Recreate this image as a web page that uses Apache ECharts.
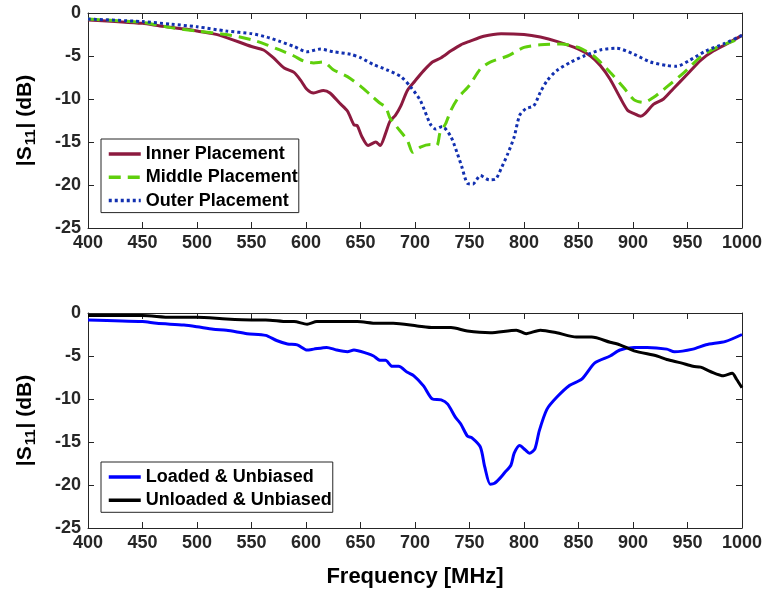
<!DOCTYPE html>
<html>
<head>
<meta charset="utf-8">
<script src="https://cdn.jsdelivr.net/npm/echarts@6/dist/echarts.min.js"></script>
<style>html,body{margin:0;padding:0;background:#fff}#c{width:767px;height:594px}</style>
</head>
<body>
<div id="c"></div>
<script>
var xTicks = [400,450,500,550,600,650,700,750,800,850,900,950,1000];
var yTicks = [0,-5,-10,-15,-20,-25];

var innerData = [[400,-0.8],[450,-1.2],[466,-1.5],[491,-1.9],[500,-2.1],[521,-2.6],[550,-3.9],[561,-4.3],[570,-5.2],[580,-6.4],[589,-6.9],[595,-7.8],[601,-8.9],[607,-9.3],[616,-9.0],[622,-9.3],[631,-10.5],[638,-11.4],[644,-13.0],[647,-13.1],[651,-14.3],[657,-15.4],[664,-15.0],[668,-15.4],[673,-14.0],[677,-12.6],[682,-11.9],[687,-10.8],[693,-9.0],[700,-7.9],[708,-6.7],[716,-5.7],[724,-5.2],[733,-4.4],[742,-3.7],[750,-3.3],[763,-2.7],[779,-2.4],[800,-2.5],[815,-2.8],[830,-3.3],[850,-4.2],[861,-5.0],[870,-6.1],[879,-7.7],[888,-9.8],[895,-11.3],[901,-11.7],[907,-12.0],[911,-11.7],[919,-10.6],[928,-10.0],[937,-8.8],[950,-7.1],[962,-5.5],[974,-4.4],[986,-3.6],[1000,-2.6]];

var middleData = [[400,-0.7],[450,-1.1],[476,-1.7],[500,-2.1],[527,-2.5],[550,-3.1],[564,-3.7],[576,-4.3],[589,-5.0],[598,-5.6],[607,-5.8],[616,-5.7],[625,-6.6],[638,-7.4],[650,-8.5],[659,-9.5],[668,-10.5],[673,-10.9],[677,-12.2],[683,-13.2],[693,-14.8],[698,-16.2],[705,-15.6],[714,-15.3],[720,-15.4],[723,-13.9],[728,-12.9],[733,-11.3],[740,-9.8],[750,-8.4],[760,-6.5],[769,-5.7],[785,-5.0],[800,-4.0],[815,-3.7],[834,-3.6],[850,-4.0],[864,-5.0],[879,-6.9],[891,-8.6],[901,-10.1],[910,-10.4],[919,-9.8],[931,-8.6],[947,-6.9],[962,-5.1],[977,-4.0],[993,-3.2],[1000,-2.8]];

var outerData = [[400,-0.7],[450,-1.0],[476,-1.3],[500,-1.6],[527,-2.1],[550,-2.4],[564,-2.8],[576,-3.3],[589,-3.9],[601,-4.5],[613,-4.2],[625,-4.5],[641,-4.8],[650,-5.2],[662,-6.0],[674,-6.6],[687,-7.4],[696,-8.6],[705,-10.2],[714,-12.9],[719,-13.5],[725,-13.2],[733,-14.4],[739,-16.4],[743,-17.9],[748,-19.8],[753,-19.9],[760,-18.9],[768,-19.4],[774,-19.3],[779,-18.1],[785,-16.4],[791,-14.4],[796,-11.9],[802,-11.1],[809,-10.8],[815,-9.2],[821,-7.9],[830,-6.7],[843,-5.7],[855,-5.0],[870,-4.3],[885,-4.1],[901,-4.8],[916,-5.7],[931,-6.1],[940,-6.2],[952,-5.5],[967,-4.4],[983,-3.6],[1000,-2.6]];

var loadedData = [[400,-0.8],[450,-1.0],[463,-1.2],[488,-1.4],[500,-1.6],[515,-1.9],[527,-2.0],[546,-2.4],[563,-2.6],[573,-3.2],[583,-3.6],[592,-3.7],[601,-4.3],[607,-4.2],[619,-4.0],[628,-4.3],[638,-4.5],[644,-4.3],[656,-4.7],[662,-5.0],[668,-5.5],[673,-5.5],[679,-6.2],[685,-6.2],[693,-6.9],[699,-7.3],[708,-8.5],[716,-10.0],[724,-10.1],[730,-10.6],[737,-12.1],[742,-12.9],[748,-14.3],[752,-14.5],[760,-15.6],[764,-17.9],[769,-19.9],[773,-19.8],[778,-19.2],[782,-18.6],[788,-17.7],[791,-16.3],[796,-15.4],[801,-15.9],[805,-16.3],[810,-15.8],[814,-13.7],[821,-11.2],[830,-9.8],[842,-8.4],[853,-7.7],[865,-5.8],[879,-5.0],[888,-4.3],[901,-4.0],[913,-4.0],[931,-4.2],[938,-4.5],[955,-4.2],[967,-3.7],[985,-3.3],[1000,-2.5]];

var unloadedData = [[400,-0.3],[450,-0.3],[476,-0.5],[500,-0.5],[527,-0.7],[550,-0.8],[563,-0.8],[583,-1.0],[589,-1.0],[601,-1.3],[610,-1.0],[628,-1.0],[647,-1.0],[665,-1.2],[680,-1.2],[702,-1.5],[717,-1.7],[733,-1.7],[748,-2.1],[769,-2.3],[793,-2.0],[802,-2.4],[815,-2.0],[830,-2.3],[848,-2.8],[862,-2.8],[879,-3.4],[888,-3.7],[901,-4.4],[922,-5.0],[931,-5.4],[944,-5.8],[955,-6.2],[962,-6.3],[971,-6.8],[983,-7.3],[991,-7.0],[995,-7.7],[1000,-8.7]];

var FONT = '"Liberation Sans", Arial, Helvetica, sans-serif';
var AX = '#262626';

function xAx(gi, pos, showLabels, name) {
  var a = {
    type: 'value', gridIndex: gi, position: pos, min: 400, max: 1000, interval: 50,
    axisLine: {show: true, onZero: false, lineStyle: {color: AX, width: 1}},
    axisTick: {show: true, inside: true, length: 6, lineStyle: {color: AX}},
    axisLabel: {show: showLabels, margin: 6, color: '#262626', fontFamily: FONT, fontWeight: 'bold', fontSize: 18,
      formatter: function (v) { return xTicks.indexOf(v) >= 0 ? String(v) : ''; }},
    splitLine: {show: false}
  };
  if (name) {
    a.name = name; a.nameLocation = 'middle'; a.nameGap = 38;
    a.nameTextStyle = {color: '#000', fontFamily: FONT, fontWeight: 'bold', fontSize: 22};
  }
  return a;
}
function yAx(gi, pos, showLabels) {
  var a = {
    type: 'value', gridIndex: gi, position: pos, min: -25, max: 0, interval: 5,
    axisLine: {show: true, onZero: false, lineStyle: {color: AX, width: 1}},
    axisTick: {show: true, inside: true, length: 6, lineStyle: {color: AX}},
    axisLabel: {show: showLabels, margin: 7, color: '#262626', fontFamily: FONT, fontWeight: 'bold', fontSize: 18,
      formatter: function (v) { return yTicks.indexOf(v) >= 0 ? String(v) : ''; }},
    splitLine: {show: false}
  };
  if (showLabels) {
    a.name = '|S{sub|11}| (dB)';
    a.nameLocation = 'middle'; a.nameGap = 50; a.nameRotate = 90;
    a.nameTextStyle = {color: '#000', fontFamily: FONT, fontWeight: 'bold', fontSize: 21,
      rich: {sub: {fontFamily: FONT, fontWeight: 'bold', fontSize: 15, color: '#000', padding: [11, 1, 0, 1]}}};
  }
  return a;
}

function lineSeries(name, data, xi, yi, color, type) {
  return {
    name: name, type: 'line', xAxisIndex: xi, yAxisIndex: yi, data: data,
    showSymbol: false, symbol: 'none', smooth: 0.25, animation: false,
    lineStyle: {color: color, width: 3, type: type, cap: 'butt'},
    itemStyle: {color: color}
  };
}

var legendText = {color: '#000', fontFamily: FONT, fontWeight: 'bold', fontSize: 18};
var legendCommon = {
  orient: 'vertical', itemWidth: 32, itemHeight: 18, itemGap: 5.3, padding: [6, 1, 3, 6],
  borderColor: '#262626', borderWidth: 1, backgroundColor: '#fff', textStyle: legendText,
  selectedMode: false, itemStyle: {opacity: 0}, lineStyle: {width: 3.5}
};

var option = {
  backgroundColor: '#fff',
  animation: false,
  grid: [
    {left: 88, width: 654, top: 13, height: 215},
    {left: 88, width: 654, top: 313, height: 215}
  ],
  xAxis: [xAx(0, 'bottom', true), xAx(0, 'top', false), xAx(1, 'bottom', true, 'Frequency [MHz]'), xAx(1, 'top', false)],
  yAxis: [yAx(0, 'left', true), yAx(0, 'right', false), yAx(1, 'left', true), yAx(1, 'right', false)],
  legend: [
    Object.assign({data: ['Inner Placement', 'Middle Placement', 'Outer Placement'], left: 101, top: 139}, legendCommon),
    Object.assign({data: ['Loaded & Unbiased', 'Unloaded & Unbiased'], left: 101, top: 462}, legendCommon)
  ],
  series: [
    lineSeries('Inner Placement', innerData, 0, 0, '#8c1a3f', 'solid'),
    lineSeries('Middle Placement', middleData, 0, 0, '#5fcf0c', [12, 7]),
    lineSeries('Outer Placement', outerData, 0, 0, '#1230b0', [3, 3]),
    lineSeries('Loaded & Unbiased', loadedData, 2, 2, '#0000ff', 'solid'),
    lineSeries('Unloaded & Unbiased', unloadedData, 2, 2, '#000000', 'solid')
  ]
};

var chart = echarts.init(document.getElementById('c'), null, {renderer: 'canvas'});
chart.setOption(option);
</script>
</body>
</html>
